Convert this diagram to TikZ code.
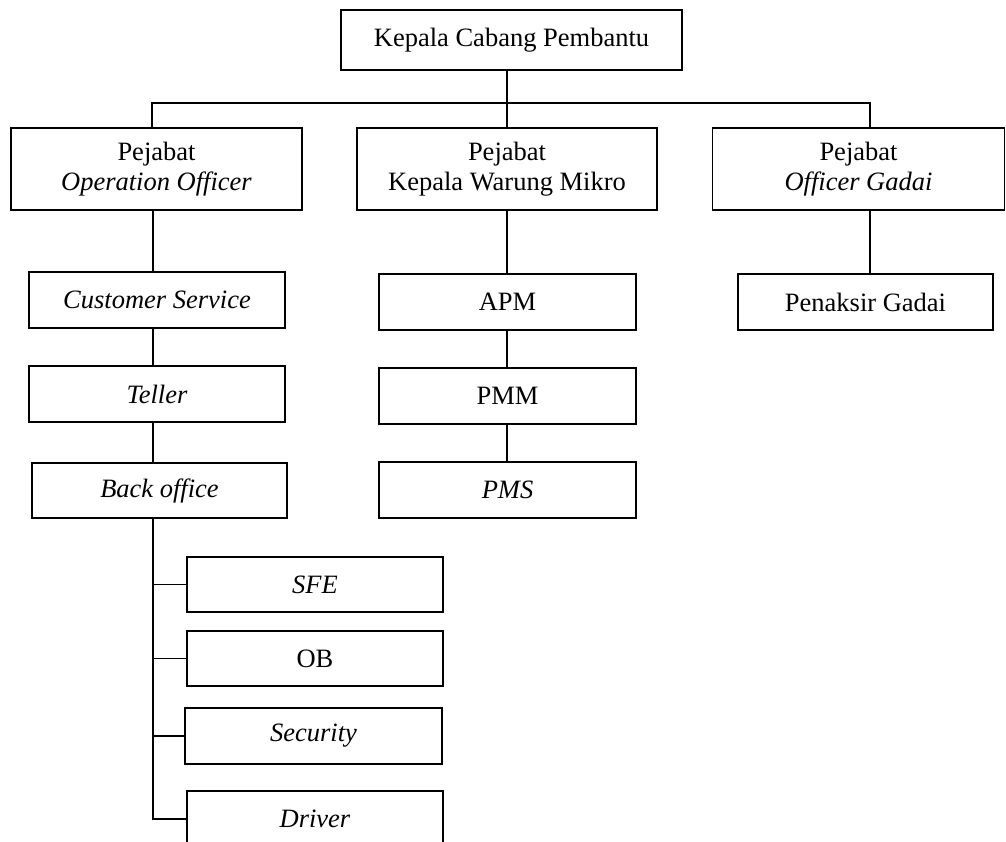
\documentclass[tikz,border=0pt]{standalone}
\usepackage{fontspec}
\setmainfont{Liberation Serif}
\begin{document}
\begin{tikzpicture}[x=1pt,y=-1pt,
  box/.style={draw=black,line width=1.1pt,inner sep=0pt,align=center,
    font=\fontsize{26.5}{30.5}\selectfont},
  conn/.style={draw=black,line width=1.1pt}]
\useasboundingbox (0,0) rectangle (1006,841);
\clip (0,0) rectangle (1006,841);
% top
\node[box,minimum width=341pt,minimum height=60pt] (top) at (511.5,40) {Kepala Cabang Pembantu};
% level 1
\node[box,minimum width=291pt,minimum height=82pt] (L1) at (156.5,169) {Pejabat\\\textit{Operation Officer}};
\node[box,minimum width=300pt,minimum height=82pt] (M1) at (507,169) {Pejabat\\Kepala Warung Mikro};
\node[box,minimum width=292pt,minimum height=82pt] (R1) at (858.5,169) {Pejabat\\\textit{Officer Gadai}};
% left column
\node[box,minimum width=256pt,minimum height=56pt] (CS) at (157,300) {\textit{Customer Service}};
\node[box,minimum width=256pt,minimum height=56pt] (TL) at (157,394) {\textit{Teller}};
\node[box,minimum width=255pt,minimum height=55pt] (BO) at (159.5,490.5) {\textit{Back office}};
\node[box,minimum width=256pt,minimum height=55pt] (SFE) at (315,584.5) {\textit{SFE}};
\node[box,minimum width=256pt,minimum height=55pt] (OB) at (315,658.5) {OB};
\node[box,minimum width=257pt,minimum height=56pt] (SEC) at (313.5,736) {\textit{Security}};
\node[box,minimum width=256pt,minimum height=56pt] (DRV) at (315,819) {\textit{Driver}};
% middle column
\node[box,minimum width=257pt,minimum height=56pt] (APM) at (507.5,302) {APM};
\node[box,minimum width=257pt,minimum height=56pt] (PMM) at (507.5,396) {PMM};
\node[box,minimum width=257pt,minimum height=56pt] (PMS) at (507.5,490) {\textit{PMS}};
% right column
\node[box,minimum width=255pt,minimum height=56pt] (PG) at (865.5,302) {Penaksir Gadai};
% connector guides
\coordinate (busL) at (152,103);
\coordinate (busR) at (870,103);
\coordinate (mc) at (507,0);
\coordinate (lc) at (153,0);
% bus
\draw[conn] (top.south -| mc) -- (M1.north -| mc);
\draw[conn] (L1.north -| busL) -- (busL) -- (busR) -- (R1.north -| busR);
% left column
\draw[conn] (L1.south -| lc) -- (CS.north -| lc);
\draw[conn] (CS.south -| lc) -- (TL.north -| lc);
\draw[conn] (TL.south -| lc) -- (BO.north -| lc);
\draw[conn] (BO.south -| lc) -- (DRV.west -| lc) -- (DRV.west);
\draw[conn] (SFE.west -| lc) -- (SFE.west);
\draw[conn] (OB.west -| lc) -- (OB.west);
\draw[conn] (SEC.west -| lc) -- (SEC.west);
% middle column
\draw[conn] (M1.south -| mc) -- (APM.north -| mc);
\draw[conn] (APM.south -| mc) -- (PMM.north -| mc);
\draw[conn] (PMM.south -| mc) -- (PMS.north -| mc);
% right column
\draw[conn] (R1.south -| busR) -- (PG.north -| busR);
\end{tikzpicture}
\end{document}
